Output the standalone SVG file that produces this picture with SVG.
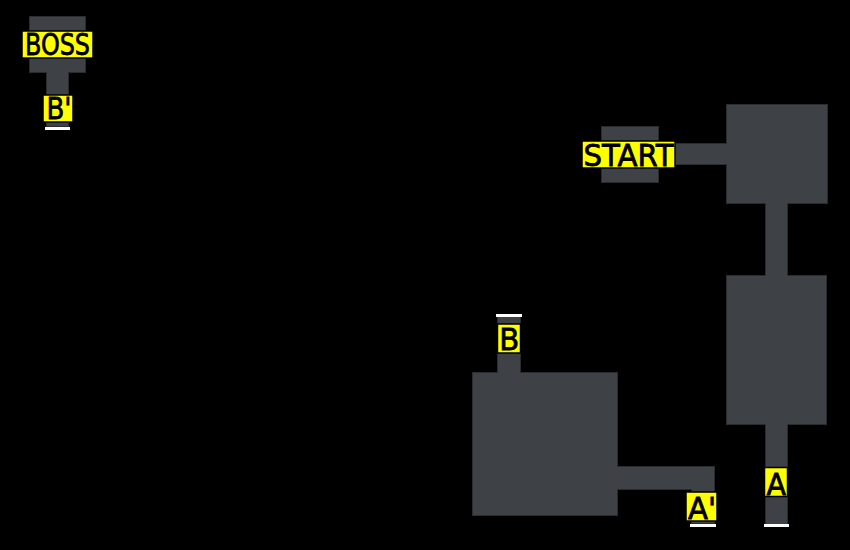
<svg xmlns="http://www.w3.org/2000/svg" width="850" height="550" viewBox="0 0 850 550">
<style>
.o rect{fill:#2a2c30;stroke:#2a2c30;stroke-width:2}
.f rect{fill:#3e4146}
.lb{fill:#ffff00;stroke:#000;stroke-width:1.5}
.t{font-family:"DejaVu Sans",sans-serif;font-size:31px;fill:#000;stroke:#000;stroke-width:0.8}
.w{fill:#ffffff}
</style>
<rect width="850" height="550" fill="#000"/>
<g id="map-outline" class="o">
<rect x="30" y="17" width="55" height="55"/>
<rect x="47" y="72" width="21" height="54"/>
<rect x="602" y="127" width="56" height="55"/>
<rect x="658" y="144" width="70" height="20"/>
<rect x="727" y="105" width="100" height="98"/>
<rect x="766" y="203" width="21" height="73"/>
<rect x="727" y="276" width="99" height="148"/>
<rect x="766" y="424" width="21" height="100"/>
<rect x="498" y="317" width="22" height="57"/>
<rect x="473" y="373" width="144" height="142"/>
<rect x="616" y="467" width="98" height="22"/>
<rect x="692" y="488" width="22" height="35"/>
</g>
<g id="map-fill" class="f">
<rect x="30" y="17" width="55" height="55"/>
<rect x="47" y="72" width="21" height="54"/>
<rect x="602" y="127" width="56" height="55"/>
<rect x="658" y="144" width="70" height="20"/>
<rect x="727" y="105" width="100" height="98"/>
<rect x="766" y="203" width="21" height="73"/>
<rect x="727" y="276" width="99" height="148"/>
<rect x="766" y="424" width="21" height="100"/>
<rect x="498" y="317" width="22" height="57"/>
<rect x="473" y="373" width="144" height="142"/>
<rect x="616" y="467" width="98" height="22"/>
<rect x="692" y="488" width="22" height="35"/>
</g>
<g id="exits">
<rect class="w" x="45" y="127" width="25" height="3"/>
<rect class="w" x="496" y="314" width="26" height="3"/>
<rect class="w" x="690" y="524" width="26" height="3"/>
<rect class="w" x="764" y="524" width="25" height="3"/>
</g>
<g id="label-boss">
<rect class="lb" x="22" y="31" width="71" height="27"/>
<text class="t" x="25" y="55" textLength="65" lengthAdjust="spacingAndGlyphs">BOSS</text>
</g>
<g id="label-bprime">
<rect class="lb" x="43" y="95" width="30" height="27"/>
<text class="t" x="46.5" y="119" textLength="25" lengthAdjust="spacingAndGlyphs">B'</text>
</g>
<g id="label-start">
<rect class="lb" x="582" y="141" width="93" height="27"/>
<text class="t" x="583.5" y="166" textLength="90" lengthAdjust="spacingAndGlyphs">START</text>
</g>
<g id="label-b">
<rect class="lb" x="497.5" y="324" width="23" height="29"/>
<text class="t" x="499.3" y="350" textLength="20" lengthAdjust="spacingAndGlyphs">B</text>
</g>
<g id="label-a">
<rect class="lb" x="764.5" y="467.5" width="23" height="29"/>
<text class="t" x="766.5" y="495" textLength="19.5" lengthAdjust="spacingAndGlyphs">A</text>
</g>
<g id="label-aprime">
<rect class="lb" x="686" y="492" width="31" height="29"/>
<text class="t" x="688" y="519" textLength="28" lengthAdjust="spacingAndGlyphs">A'</text>
</g>
</svg>
